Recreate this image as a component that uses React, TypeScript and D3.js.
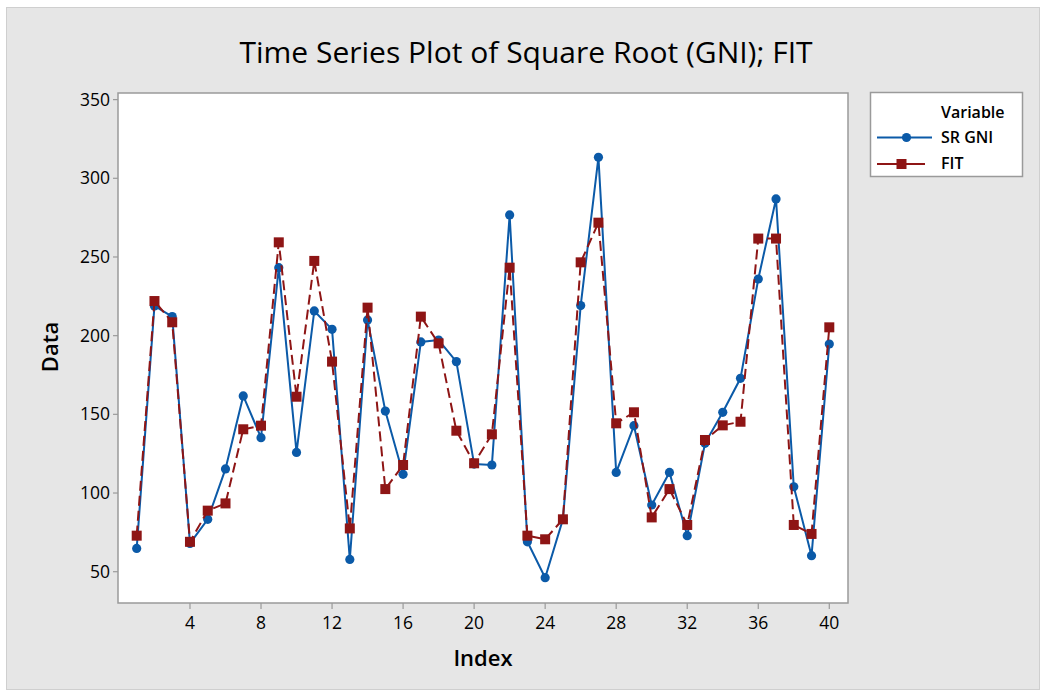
import React from "react";
import * as d3 from "d3";

const indexValues: number[] = Array.from({ length: 40 }, (_, i) => i + 1);
const srGni: number[] = [
  64.8, 218.9, 212.1, 68, 83.3, 115.3, 161.7, 135.2, 243.2, 125.8,
  215.7, 204, 57.8, 210, 152.1, 111.9, 196, 197.2, 183.5, 118.4,
  117.8, 276.7, 69, 46.2, 83.3, 219.1, 313.3, 113.1, 142.8, 92.4,
  113.1, 72.9, 131.6, 151.3, 172.9, 236, 286.9, 104, 60.2, 194.7,
];
const fit: number[] = [
  72.9, 222, 208.5, 69, 88.8, 93.4, 140.5, 142.8, 259.3, 161.2,
  247.5, 183.5, 77.5, 217.8, 102.5, 117.8, 212.1, 195.1, 139.6, 118.9,
  137.3, 243.2, 72.9, 70.6, 83.3, 246.6, 271.8, 144.3, 151.3, 84.5,
  102.5, 79.7, 133.7, 143, 145.3, 261.7, 261.7, 79.7, 74, 205.3,
];
const xTicks: number[] = [4, 8, 12, 16, 20, 24, 28, 32, 36, 40];
const yTicks: number[] = [50, 100, 150, 200, 250, 300, 350];
const titleText = "Time Series Plot of Square Root (GNI); FIT";
const legendTitle = "Variable";
const seriesNames: string[] = ["SR GNI", "FIT"];

const BLUE = "#0b5aa8";
const RED = "#8e1515";
const FONT = "'Open Sans', 'Noto Sans', sans-serif";

export default function App() {
  const W = 1045;
  const H = 696;
  const frame = { left: 118, top: 93, right: 848, bottom: 603 };
  const x = d3.scaleLinear().domain([1, 40]).range([136.7, 829.3]);
  const y = d3.scaleLinear().domain([50, 300]).range([571.7, 178.3]);

  const pts1: [number, number][] = indexValues.map((d, i) => [x(d), y(srGni[i])]);
  const pts2: [number, number][] = indexValues.map((d, i) => [x(d), y(fit[i])]);
  const line = d3.line();

  return (
    <svg width={W} height={H} style={{ position: "absolute", left: 0, top: 0 }}>
      <rect x={0} y={0} width={W} height={H} fill="#ffffff" />
      <rect x={6.5} y={7.5} width={1033} height={682} fill="#e6e6e6" stroke="#cfcfcf" strokeWidth={1} />
      <text x={526} y={63} textAnchor="middle" fontFamily={FONT} fontSize={30} fill="#000">
        {titleText}
      </text>
      <rect
        x={frame.left}
        y={frame.top}
        width={frame.right - frame.left}
        height={frame.bottom - frame.top}
        fill="#ffffff"
        stroke="#9a9a9a"
        strokeWidth={1.5}
      />
      {yTicks.map((t) => (
        <g key={"y" + t}>
          <line x1={frame.left - 5} x2={frame.left} y1={y(t)} y2={y(t)} stroke="#9a9a9a" strokeWidth={1.2} />
          <text x={frame.left - 8} y={y(t) + 6} textAnchor="end" fontFamily={FONT} fontSize={17.5} fill="#000">
            {t}
          </text>
        </g>
      ))}
      {xTicks.map((t) => (
        <g key={"x" + t}>
          <line x1={x(t)} x2={x(t)} y1={frame.bottom} y2={frame.bottom + 6} stroke="#9a9a9a" strokeWidth={1.2} />
          <text x={x(t)} y={629} textAnchor="middle" fontFamily={FONT} fontSize={17.5} fill="#000">
            {t}
          </text>
        </g>
      ))}
      <text x={483} y={666} textAnchor="middle" fontFamily={FONT} fontSize={22} fontWeight={600} fill="#000">
        Index
      </text>
      <text
        transform="translate(58,347) rotate(-90)"
        textAnchor="middle"
        fontFamily={FONT}
        fontSize={22}
        fontWeight={600}
        fill="#000"
      >
        Data
      </text>

      <path d={line(pts1) || ""} fill="none" stroke={BLUE} strokeWidth={2} />
      {pts1.map((p, i) => (
        <circle key={"c" + i} cx={p[0]} cy={p[1]} r={4.6} fill={BLUE} />
      ))}
      <path d={line(pts2) || ""} fill="none" stroke={RED} strokeWidth={2} strokeDasharray="10,5" />
      {pts2.map((p, i) => (
        <rect key={"s" + i} x={p[0] - 5} y={p[1] - 5} width={10} height={10} fill={RED} />
      ))}

      <rect x={870.5} y={92.5} width={152} height={84} fill="#ffffff" stroke="#9a9a9a" strokeWidth={1.5} />
      <text x={941} y={118} fontFamily={FONT} fontSize={16} fontWeight={600} fill="#000">
        {legendTitle}
      </text>
      <line x1={877} x2={932} y1={137.5} y2={137.5} stroke={BLUE} strokeWidth={2} />
      <circle cx={906.5} cy={137.5} r={4.6} fill={BLUE} />
      <text x={941} y={143} fontFamily={FONT} fontSize={16} fontWeight={600} fill="#000">
        {seriesNames[0]}
      </text>
      <line x1={877} x2={925} y1={164} y2={164} stroke={RED} strokeWidth={2} />
      <rect x={896.5} y={159} width={10} height={10} fill={RED} />
      <text x={941} y={169} fontFamily={FONT} fontSize={16} fontWeight={600} fill="#000">
        {seriesNames[1]}
      </text>
    </svg>
  );
}
